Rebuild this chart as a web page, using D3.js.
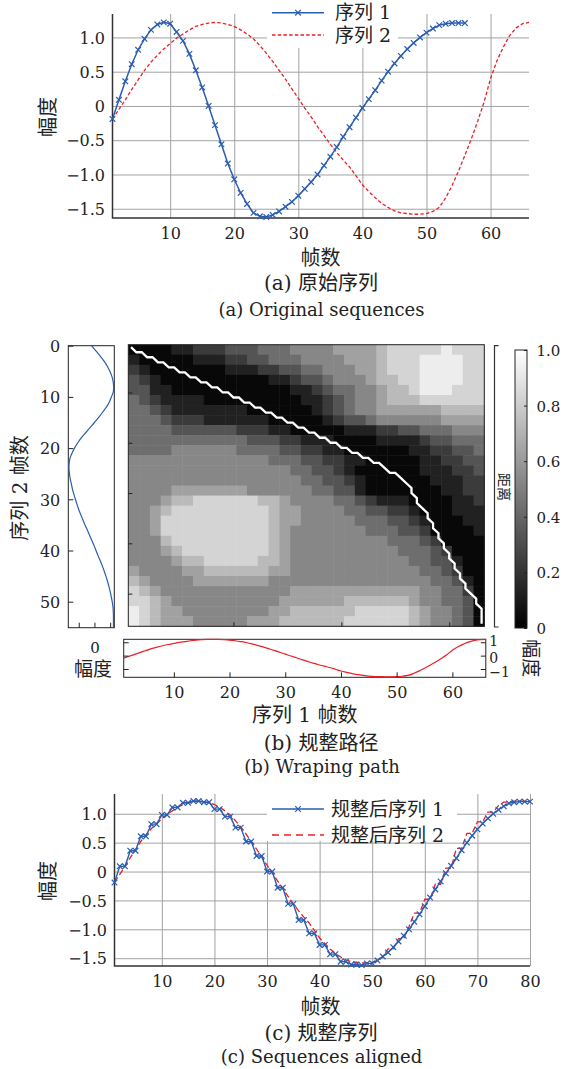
<!DOCTYPE html>
<html>
<head>
<meta charset="utf-8">
<script src="https://cdn.jsdelivr.net/npm/d3@7"></script>
<style>
  body { margin: 0; background: #fff; }
  svg { display: block; }
</style>
</head>
<body>
<div id="chart"></div>
<script>
// ---- data ----

// (a) original sequences, frame 1..n
const seq1 = [-0.19, 0.09, 0.36, 0.61, 0.82, 0.98, 1.11, 1.19, 1.22, 1.20,
  1.08, 0.95, 0.76, 0.52, 0.27, 0.00, -0.28, -0.56, -0.84, -1.07,
  -1.27, -1.43, -1.56, -1.61, -1.62, -1.59, -1.54, -1.47, -1.40, -1.31,
  -1.21, -1.11, -1.00, -0.87, -0.74, -0.60, -0.45, -0.31, -0.17, -0.03,
  0.10, 0.23, 0.37, 0.50, 0.62, 0.73, 0.83, 0.92, 1.00, 1.07,
  1.13, 1.18, 1.20, 1.21, 1.21, 1.21];
const seq2 = [-0.19, -0.05, 0.09, 0.24, 0.38, 0.52, 0.64, 0.74, 0.83, 0.91,
  0.99, 1.05, 1.11, 1.16, 1.19, 1.21, 1.22, 1.21, 1.19, 1.16,
  1.11, 1.05, 0.98, 0.88, 0.77, 0.65, 0.52, 0.39, 0.25, 0.11,
  -0.03, -0.16, -0.30, -0.43, -0.56, -0.68, -0.79, -0.89, -1.02, -1.15,
  -1.25, -1.34, -1.42, -1.48, -1.53, -1.56, -1.57, -1.58, -1.58, -1.57,
  -1.54, -1.48, -1.34, -1.16, -0.95, -0.72, -0.48, -0.22, 0.06, 0.40,
  0.66, 0.86, 1.03, 1.14, 1.20, 1.22];

// (b) warping path: column (sequence on the bottom strip) and row (sequence on the left strip)
const pathCol = [1, 2, 3, 4, 5, 6, 7, 8, 9, 10, 11, 12, 13, 14, 15, 16, 17, 18, 19, 20,
  21, 22, 23, 24, 25, 26, 27, 28, 29, 30, 31, 32, 33, 34, 35, 36, 37, 38, 39, 40,
  41, 42, 43, 44, 45, 46, 47, 48, 49, 50, 51, 52, 53, 53, 54, 54, 55, 56, 56, 57,
  57, 58, 58, 59, 59, 60, 60, 61, 61, 62, 62, 63, 63, 64, 65, 65, 66, 66, 66, 66];
const pathRow = [1, 2, 2, 3, 3, 4, 4, 5, 5, 6, 6, 7, 7, 8, 8, 9, 9, 10, 10, 11,
  11, 12, 12, 13, 13, 14, 14, 15, 15, 16, 16, 17, 17, 18, 18, 19, 19, 20, 20, 21,
  21, 22, 22, 23, 23, 24, 24, 25, 26, 26, 27, 28, 29, 30, 31, 32, 33, 34, 35, 36,
  37, 38, 39, 40, 41, 42, 43, 44, 45, 46, 47, 48, 49, 50, 51, 52, 53, 54, 55, 56];

// (b) distance map, grey level 0 (black) .. 9 (light), one character per 2x2 frame block
const distRows = [
  "000011222333444555566667888889888",
  "100000111223344455556667888999988",
  "210000000111223344555667888999988",
  "321000000000011233455567788999988",
  "331100000000000112344556778999888",
  "432111100000000011234556777888888",
  "443211111110000001234556666667777",
  "444322211111100000123345555556666",
  "444433333322211000001112233444555",
  "444444444443332211100001111233444",
  "444455555544443322110000001122334",
  "555555555555544433221100000112233",
  "555555555555555443321000000111223",
  "555555555555555544332100000011122",
  "555566666665555554433100000001122",
  "555677888888776555544321110000112",
  "556788888888876655554433221000111",
  "556888888888876655555444332100011",
  "556888888888876555555544433200001",
  "555788888888876555555555444320000",
  "555678888888876555555555544432000",
  "555567788888776555555555554433100",
  "655556677777766555555555555443200",
  "765555666666655555555555555544310",
  "876555555555555666666666666554420",
  "887655555555556666667777776554430",
  "987665555555566777777888887655430",
  "987666555556667777778888887655430"
];

// (c) aligned sequences, step 1..80
const aligned1 = [-0.19, 0.09, 0.09, 0.36, 0.36, 0.61, 0.61, 0.82, 0.82, 0.98,
  0.98, 1.11, 1.11, 1.19, 1.19, 1.22, 1.22, 1.20, 1.20, 1.08,
  1.08, 0.95, 0.95, 0.76, 0.76, 0.52, 0.52, 0.27, 0.27, 0.00,
  0.00, -0.28, -0.28, -0.56, -0.56, -0.84, -0.84, -1.07, -1.07, -1.27,
  -1.27, -1.43, -1.43, -1.56, -1.56, -1.61, -1.61, -1.62, -1.59, -1.59,
  -1.54, -1.47, -1.40, -1.31, -1.21, -1.11, -1.00, -0.87, -0.74, -0.60,
  -0.45, -0.31, -0.17, -0.03, 0.10, 0.23, 0.37, 0.50, 0.62, 0.73,
  0.83, 0.92, 1.00, 1.07, 1.13, 1.18, 1.20, 1.21, 1.21, 1.21];
const aligned2 = [-0.19, -0.05, 0.09, 0.24, 0.38, 0.52, 0.64, 0.74, 0.83, 0.91,
  0.99, 1.05, 1.11, 1.16, 1.19, 1.21, 1.22, 1.21, 1.19, 1.16,
  1.11, 1.05, 0.98, 0.88, 0.77, 0.65, 0.52, 0.39, 0.25, 0.11,
  -0.03, -0.16, -0.30, -0.43, -0.56, -0.68, -0.79, -0.89, -1.02, -1.15,
  -1.25, -1.34, -1.42, -1.48, -1.53, -1.56, -1.57, -1.58, -1.58, -1.57,
  -1.54, -1.48, -1.34, -1.34, -1.16, -1.16, -0.95, -0.72, -0.72, -0.48,
  -0.48, -0.22, -0.22, 0.06, 0.06, 0.40, 0.40, 0.66, 0.66, 0.86,
  0.86, 1.03, 1.03, 1.14, 1.20, 1.20, 1.22, 1.22, 1.22, 1.22];

// ticks
const ampTicks = [-1.5, -1.0, -0.5, 0, 0.5, 1.0];
const framesTicksA = [10, 20, 30, 40, 50, 60];
const framesTicksC = [10, 20, 30, 40, 50, 60, 70, 80];
const rowTicks = [0, 10, 20, 30, 40, 50];
const stripTicks = [-1, 0, 1];
const cbTicks = [0, 0.2, 0.4, 0.6, 0.8, 1.0];
const ampLimits = [-1.635, 1.342];

// ---- drawing ----
const svg = d3.select('#chart').append('svg')
  .attr('width', 564)
  .attr('height', 1069);

const FONT = "'DejaVu Serif', 'Noto Sans CJK SC', serif";
const BLUE = '#2a5db0', RED = '#ea1f27', GRID = '#a2a2a2', INK = '#222';
const CROSS = 'M-2.8,-2.8L2.8,2.8M-2.8,2.8L2.8,-2.8';
const ampFmt = d => d === 0 ? '0' : d3.format('.1f')(d);

function label(x, y, s, size, rot, anchor) {
  svg.append('text')
    .attr('transform', 'translate(' + x + ',' + y + ')' + (rot ? ' rotate(' + rot + ')' : ''))
    .attr('text-anchor', anchor || 'middle')
    .attr('dy', '0.35em')
    .style('font-family', FONT)
    .style('font-size', size + 'px')
    .attr('fill', INK)
    .text(s);
}

function styleText(sel, size) {
  sel.selectAll('text')
    .style('font-family', FONT)
    .style('font-size', size + 'px')
    .attr('fill', INK)
    .attr('dy', '0.36em');
}

// panels (a) and (c)
function seqPanel(c) {
  const x = d3.scaleLinear().domain(c.xDomain).range([c.left, c.right]);
  const y = d3.scaleLinear().domain(ampLimits).range([c.bottom, c.top]);
  const g = svg.append('g');

  // grid
  const gx = g.append('g').attr('transform', 'translate(0,' + c.bottom + ')')
    .call(d3.axisBottom(x).tickValues(c.xTicks).tickSize(-(c.bottom - c.top)).tickFormat(''));
  const gy = g.append('g').attr('transform', 'translate(' + c.left + ',0)')
    .call(d3.axisLeft(y).tickValues(ampTicks).tickSize(-(c.right - c.left)).tickFormat(''));
  [gx, gy].forEach(s => {
    s.select('.domain').remove();
    s.selectAll('line').attr('stroke', GRID).attr('stroke-width', 1);
  });

  // axis lines (left + bottom only)
  g.append('path')
    .attr('d', 'M' + c.left + ',' + c.top + 'V' + c.bottom + 'H' + c.right)
    .attr('fill', 'none').attr('stroke', '#333').attr('stroke-width', 1.5);

  // tick labels
  const lx = g.append('g').attr('transform', 'translate(0,' + c.bottom + ')')
    .call(d3.axisBottom(x).tickValues(c.xTicks).tickSize(0));
  lx.select('.domain').remove();
  styleText(lx, 16);
  lx.selectAll('text').attr('y', 15.5);

  const ly = g.append('g').attr('transform', 'translate(' + c.left + ',0)')
    .call(d3.axisLeft(y).tickValues(ampTicks).tickSize(0).tickFormat(ampFmt));
  ly.select('.domain').remove();
  styleText(ly, 16);
  ly.selectAll('text').attr('x', -7.5);

  // series
  c.series.forEach(s => {
    g.append('path').datum(s.values)
      .attr('d', d3.line().x((d, i) => x(i + 1)).y(d => y(d)))
      .attr('fill', 'none')
      .attr('stroke', s.color)
      .attr('stroke-width', s.width)
      .attr('stroke-dasharray', s.dash || null);
    if (s.marker) {
      g.append('g').selectAll('path').data(s.values).join('path')
        .attr('d', CROSS)
        .attr('transform', (d, i) => 'translate(' + x(i + 1) + ',' + y(d) + ')')
        .attr('stroke', s.color).attr('stroke-width', 1.2).attr('fill', 'none');
    }
  });

  // legend
  const L = c.legend;
  g.append('rect').attr('x', L.x0).attr('y', L.y0)
    .attr('width', L.x1 - L.x0).attr('height', L.y1 - L.y0).attr('fill', '#fff');
  L.items.forEach((it, k) => {
    const s = c.series.find(d => d.name === it);
    const yy = L.rows[k];
    g.append('line').attr('x1', L.x0 + 5).attr('x2', L.x0 + 57).attr('y1', yy).attr('y2', yy)
      .attr('stroke', s.color).attr('stroke-width', s.width).attr('stroke-dasharray', s.legendDash || s.dash || null);
    if (s.marker) {
      g.append('path').attr('d', CROSS).attr('transform', 'translate(' + (L.x0 + 31) + ',' + yy + ')')
        .attr('stroke', s.color).attr('stroke-width', 1.2);
    }
    label(L.x0 + L.textDx, yy, it, 19, 0, 'start');
  });

  label(48, (c.top + c.bottom) / 2 + 1, '幅度', 20, -90);
  label(320.5, c.xlabelY, '帧数', 20);
  label(321, c.capY1, c.cap1, 20);
  label(321.5, c.capY2, c.cap2, 18);
}

seqPanel({
  xDomain: [1, 66], left: 112.5, right: 529, top: 14, bottom: 218,
  xTicks: framesTicksA,
  series: [
    {name: '序列 2', values: seq2, color: RED, width: 1.3, dash: '3.5,2.2'},
    {name: '序列 1', values: seq1, color: BLUE, width: 1.5, marker: true}
  ],
  legend: {x0: 267, x1: 398, y0: 0, y1: 48, rows: [12.7, 35], textDx: 68, items: ['序列 1', '序列 2']},
  xlabelY: 258.3, capY1: 283.3, capY2: 309.5,
  cap1: '(a) 原始序列', cap2: '(a) Original sequences'
});

seqPanel({
  xDomain: [1, 80], left: 114.5, right: 530, top: 794, bottom: 966,
  xTicks: framesTicksC,
  series: [
    {name: '规整后序列 2', values: aligned2, color: RED, width: 1.3, dash: '6,3', legendDash: '7,5'},
    {name: '规整后序列 1', values: aligned1, color: BLUE, width: 1.4, marker: true}
  ],
  legend: {x0: 267, x1: 457, y0: 794, y1: 841, rows: [809, 835], textDx: 64, items: ['规整后序列 1', '规整后序列 2']},
  xlabelY: 1006.7, capY1: 1033.3, capY2: 1056.7,
  cap1: '(c) 规整序列', cap2: '(c) Sequences aligned'
});

// ---- panel (b) ----
const gb = svg.append('g');

// left strip: sequence 1 against its frame index
const xL = d3.scaleLinear().domain([-1.62, 1.22]).range([69, 113.6]);
const yL = d3.scaleLinear().domain([0, 55]).range([345.7, 627.3]);
gb.append('rect').attr('x', 68.3).attr('y', 345.7).attr('width', 46).attr('height', 282)
  .attr('fill', '#fff').attr('stroke', INK).attr('stroke-width', 1);
gb.append('path').datum(seq1)
  .attr('d', d3.line().x(d => xL(d)).y((d, i) => yL(i)).curve(d3.curveCatmullRom))
  .attr('fill', 'none').attr('stroke', BLUE).attr('stroke-width', 1.2);
const lAx = gb.append('g').attr('transform', 'translate(68.3,0)')
  .call(d3.axisLeft(yL).tickValues(rowTicks).tickSize(-5).tickPadding(8));
lAx.select('.domain').remove();
lAx.selectAll('line').attr('stroke', INK);
styleText(lAx, 16);
const lBx = gb.append('g').attr('transform', 'translate(0,627.7)')
  .call(d3.axisBottom(xL).tickValues(stripTicks).tickSize(-5).tickFormat(d => d === 0 ? '0' : ''));
lBx.select('.domain').remove();
lBx.selectAll('line').attr('stroke', INK);
styleText(lBx, 15);
lBx.selectAll('text').attr('y', 19.5);
label(93, 669.5, '幅度', 19);
label(20, 488, '序列 2 帧数', 20, -90);

// distance map
const xH = d3.scaleLinear().domain([0.5, 66.5]).range([128.3, 484.3]);
const yH = d3.scaleLinear().domain([0.5, 56.5]).range([344.7, 626.3]);
const xBlk = d3.scaleBand().domain(d3.range(distRows[0].length)).range([128.3, 484.3]);
const yBlk = d3.scaleBand().domain(d3.range(distRows.length)).range([344.7, 626.3]);
const grey = d3.scaleLinear().domain([0, 1]).range(['#000', '#fff']);
const cells = [];
distRows.forEach((row, r) => row.split('').forEach((ch, c) => cells.push({r, c, v: 0.03 + 0.1 * (+ch)})));
gb.append('g').selectAll('rect').data(cells).join('rect')
  .attr('x', d => xBlk(d.c)).attr('y', d => yBlk(d.r))
  .attr('width', xBlk.bandwidth() + 0.5).attr('height', yBlk.bandwidth() + 0.5)
  .attr('fill', d => grey(d.v));
gb.append('path').datum(d3.zip(pathCol, pathRow))
  .attr('d', d3.line().x(d => xH(d[0])).y(d => yH(d[1])))
  .attr('fill', 'none').attr('stroke', '#fff').attr('stroke-width', 2.3);
gb.append('rect').attr('x', 128.3).attr('y', 344.7).attr('width', 356).attr('height', 281.6)
  .attr('fill', 'none').attr('stroke', INK).attr('stroke-width', 1);
const hL = gb.append('g').attr('transform', 'translate(128.3,0)')
  .call(d3.axisLeft(yH).tickValues([10, 20, 30, 40, 50]).tickSize(-4).tickFormat(''));
const hB = gb.append('g').attr('transform', 'translate(0,626.3)')
  .call(d3.axisBottom(xH).tickValues([20, 40, 60]).tickSize(-4).tickFormat(''));
[hL, hB].forEach(s => { s.select('.domain').remove(); s.selectAll('line').attr('stroke', INK); });

// bracket + label
gb.append('path').attr('d', 'M498.5,345.7H494.5V627H498.5')
  .attr('fill', 'none').attr('stroke', '#333').attr('stroke-width', 1.2);
label(503.5, 487, '距离', 14, 90);

// colour bar
const defs = svg.append('defs');
const grad = defs.append('linearGradient').attr('id', 'cbar')
  .attr('x1', 0).attr('y1', 1).attr('x2', 0).attr('y2', 0);
grad.append('stop').attr('offset', 0).attr('stop-color', grey(0));
grad.append('stop').attr('offset', 1).attr('stop-color', grey(1));
const cbY = d3.scaleLinear().domain([0, 1]).range([628, 350]);
gb.append('rect').attr('x', 515).attr('y', 350).attr('width', 12).attr('height', 278)
  .attr('fill', 'url(#cbar)').attr('stroke', INK).attr('stroke-width', 1);
const cbAx = gb.append('g').attr('transform', 'translate(527,0)')
  .call(d3.axisRight(cbY).tickValues(cbTicks).tickSize(-3).tickPadding(9.5)
    .tickFormat(d => d === 0 ? '0' : d3.format('.1f')(d)));
cbAx.select('.domain').remove();
cbAx.selectAll('line').attr('stroke', INK);
styleText(cbAx, 15);

// bottom strip: sequence 2 against its frame index
const xB = d3.scaleLinear().domain([1, 66]).range([123.7, 485.8]);
const yB = d3.scaleLinear().domain([-1.62, 1.22]).range([677.3, 639.3]);
gb.append('rect').attr('x', 123.7).attr('y', 639.3).attr('width', 362.1).attr('height', 38)
  .attr('fill', '#fff').attr('stroke', INK).attr('stroke-width', 1);
gb.append('path').datum(seq2)
  .attr('d', d3.line().x((d, i) => xB(i + 1)).y(d => yB(d)).curve(d3.curveCatmullRom))
  .attr('fill', 'none').attr('stroke', RED).attr('stroke-width', 1.2);
const sB = gb.append('g').attr('transform', 'translate(0,677.3)')
  .call(d3.axisBottom(xB).tickValues(framesTicksA).tickSize(-5));
sB.select('.domain').remove();
sB.selectAll('line').attr('stroke', INK);
styleText(sB, 16);
sB.selectAll('text').attr('y', 15.4);
const sL = gb.append('g').attr('transform', 'translate(123.7,0)')
  .call(d3.axisLeft(yB).tickValues(stripTicks).tickSize(-5).tickFormat(''));
sL.select('.domain').remove();
sL.selectAll('line').attr('stroke', INK);
const sR = gb.append('g').attr('transform', 'translate(485.8,0)')
  .call(d3.axisRight(yB).tickValues(stripTicks).tickSize(-5).tickPadding(3.5).tickFormat(d3.format('d')));
sR.select('.domain').remove();
sR.selectAll('line').attr('stroke', INK);
styleText(sR, 14);
sR.selectAll('text').attr('dy', d => d === 1 ? '0.22em' : d === 0 ? '0.48em' : '0.56em');
label(531, 658.3, '幅度', 19, 90);
label(304.7, 715, '序列 1 帧数', 20);
label(321, 742.7, '(b) 规整路径', 20);
label(322, 766.7, '(b) Wraping path', 18);
</script>
</body>
</html>
